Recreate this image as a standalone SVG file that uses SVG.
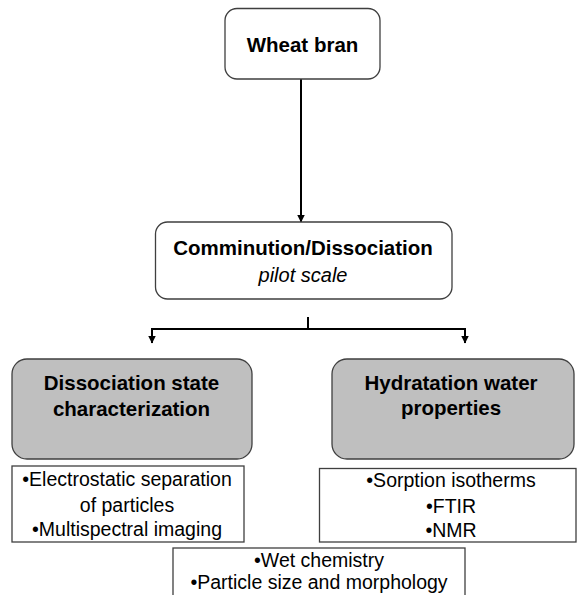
<svg xmlns="http://www.w3.org/2000/svg" width="577" height="595" viewBox="0 0 577 595">
<style>
.bg{fill:#ffffff}
.wbox{fill:#ffffff;stroke:#3f3f3f;stroke-width:1.3}
.gbox{fill:#bfbfbf;stroke:#3f3f3f;stroke-width:1.3}
.lbox{fill:#ffffff;stroke:#3f3f3f;stroke-width:1.3}
.b{font-family:"Liberation Sans",Arial,sans-serif;font-weight:bold;font-size:20.5px;fill:#000;text-anchor:middle}
.r{font-family:"Liberation Sans",Arial,sans-serif;font-size:19.5px;fill:#000;text-anchor:middle}
.i{font-family:"Liberation Sans",Arial,sans-serif;font-style:italic;font-size:20px;fill:#000;text-anchor:middle}
.c{fill:none;stroke:#000;stroke-width:2}
</style>
<defs>
<marker id="ah" markerUnits="userSpaceOnUse" viewBox="0 0 8 8" refX="7.5" refY="4" markerWidth="8" markerHeight="8" orient="auto">
<path d="M0,0 L8,4 L0,8 z" fill="#000"/>
</marker>
</defs>
<rect class="bg" x="0" y="0" width="577" height="595"/>
<g id="connectors">
<line class="c" x1="301" y1="79" x2="301" y2="222" marker-end="url(#ah)"/>
<line class="c" x1="308" y1="317" x2="308" y2="329"/>
<polyline class="c" points="308,329 152,329 152,343" marker-end="url(#ah)"/>
<polyline class="c" points="308,329 465,329 465,343" marker-end="url(#ah)"/>
</g>
<g id="wheat-bran">
<rect class="wbox" x="225" y="8.5" width="155" height="70.5" rx="12"/>
<text class="b" x="302.5" y="51.5" font-size="21">Wheat bran</text>
</g>
<g id="comminution">
<rect class="wbox" x="155.5" y="222" width="296.5" height="77" rx="12"/>
<text class="b" x="303" y="255">Comminution/Dissociation</text>
<text class="i" x="303" y="282">pilot scale</text>
</g>
<g id="dissociation">
<rect class="gbox" x="12" y="359" width="240" height="100" rx="15"/>
<text class="b" x="131.5" y="390">Dissociation state</text>
<text class="b" x="131.5" y="416">characterization</text>
</g>
<g id="hydratation">
<rect class="gbox" x="332" y="359" width="242" height="100" rx="15"/>
<text class="b" x="451" y="390">Hydratation water</text>
<text class="b" x="451" y="415">properties</text>
</g>
<g id="dissociation-methods">
<rect class="lbox" x="12" y="466" width="232" height="76"/>
<text class="r" x="127" y="486">•Electrostatic separation</text>
<text class="r" x="127" y="512">of particles</text>
<text class="r" x="127" y="536">•Multispectral imaging</text>
</g>
<g id="hydratation-methods">
<rect class="lbox" x="319.5" y="468.5" width="256.5" height="73.5"/>
<text class="r" x="451" y="487">•Sorption isotherms</text>
<text class="r" x="451" y="513">•FTIR</text>
<text class="r" x="451" y="537">•NMR</text>
</g>
<g id="common-methods">
<rect class="lbox" x="173" y="548" width="292" height="70"/>
<text class="r" x="319" y="567">•Wet chemistry</text>
<text class="r" x="319" y="589">•Particle size and morphology</text>
</g>
</svg>
